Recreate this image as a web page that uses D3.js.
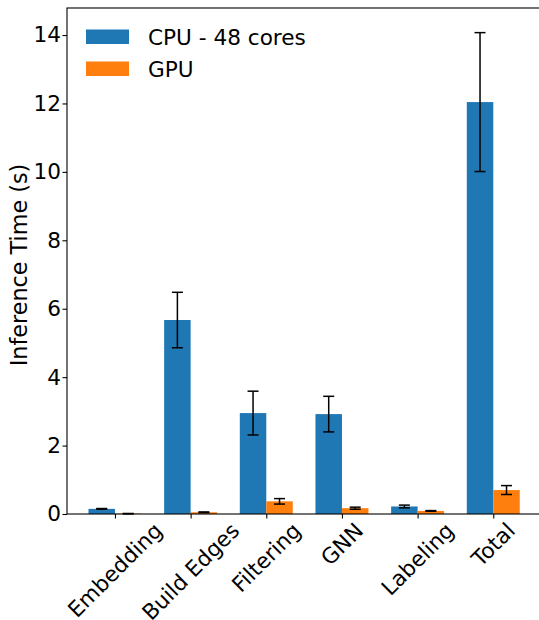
<!DOCTYPE html>
<html>
<head>
<meta charset="utf-8">
<script src="https://cdn.jsdelivr.net/npm/d3@7"></script>
<style>
  body { margin: 0; background: #fff; }
  text { font-family: "DejaVu Sans", sans-serif; }
</style>
</head>
<body>
<div id="chart"></div>
<script>
// data
const stages   = ['Embedding', 'Build Edges', 'Filtering', 'GNN', 'Labeling', 'Total'];
const cpu_mean = [0.15, 5.67, 2.95, 2.92, 0.22, 12.04];
const cpu_err  = [0.01, 0.81, 0.64, 0.52, 0.04, 2.03];
const gpu_mean = [0.01, 0.05, 0.37, 0.17, 0.09, 0.70];
const gpu_err  = [0.005, 0.01, 0.08, 0.03, 0.01, 0.13];
const y_ticks  = [0, 2, 4, 6, 8, 10, 12, 14];
const series_names = ['CPU - 48 cores', 'GPU'];

const width = 539, height = 620;
const fs = 21.6;
const barW = 0.35;

const svg = d3.select('#chart').append('svg')
  .attr('width', width)
  .attr('height', height)
  .attr('viewBox', [0, 0, width, height]);

// scales
const x = d3.scaleLinear().domain([-0.634, 5.634]).range([67, 67 + 6.268 * 75.66]);
const y = d3.scaleLinear().domain([0, 14.79]).range([514, 8]);

const series = [
  { name: series_names[0], color: '#1f77b4', mean: cpu_mean, err: cpu_err, off: -barW / 2 },
  { name: series_names[1], color: '#ff7f0e', mean: gpu_mean, err: gpu_err, off:  barW / 2 }
];

// bars
const bars = svg.append('g').attr('id', 'bars');
series.forEach(s => {
  bars.append('g')
    .attr('fill', s.color)
    .selectAll('rect')
    .data(s.mean)
    .join('rect')
    .attr('x', (d, i) => x(i + s.off - barW / 2))
    .attr('width', x(barW) - x(0))
    .attr('y', d => y(d))
    .attr('height', d => y(0) - y(d));
});

// error bars
const errs = svg.append('g').attr('id', 'errorbars').attr('stroke', '#000').attr('stroke-width', 1.5);
series.forEach(s => {
  const g = errs.append('g');
  s.mean.forEach((m, i) => {
    const cx = x(i + s.off);
    const y1 = y(m + s.err[i]), y2 = y(m - s.err[i]);
    g.append('line').attr('x1', cx).attr('x2', cx).attr('y1', y1).attr('y2', y2);
    g.append('line').attr('x1', cx - 5.5).attr('x2', cx + 5.5).attr('y1', y1).attr('y2', y1);
    g.append('line').attr('x1', cx - 5.5).attr('x2', cx + 5.5).attr('y1', y2).attr('y2', y2);
  });
});

// axes
const yAxis = svg.append('g')
  .attr('transform', `translate(${x(-0.634)},0)`)
  .call(d3.axisLeft(y).tickValues(y_ticks).tickSize(4.5).tickPadding(1.5).tickFormat(d3.format('d')));
yAxis.select('.domain').remove();
yAxis.selectAll('text').attr('font-size', fs).attr('fill', '#000').attr('font-family', 'DejaVu Sans');
yAxis.selectAll('line').attr('stroke', '#000').attr('stroke-width', 1.1);

const xAxis = svg.append('g')
  .attr('transform', `translate(0,${y(0)})`)
  .call(d3.axisBottom(x).tickValues(d3.range(stages.length)).tickSize(4.5).tickFormat(''));
xAxis.select('.domain').remove();
xAxis.selectAll('line').attr('stroke', '#000').attr('stroke-width', 1.1);

// rotated category labels, bbox centred on tick
const xl = svg.append('g').attr('id', 'x-labels');
stages.forEach((s, i) => {
  const t = xl.append('text')
    .attr('font-size', fs)
    .attr('text-anchor', 'middle')
    .attr('dominant-baseline', 'central')
    .text(s);
  const L = t.node().getComputedTextLength();
  const half = (L + fs * 0.95) * Math.SQRT1_2 / 2;
  const cx = x(i), cy = y(0) + 4.5 + 1 + half;
  t.attr('transform', `translate(${cx},${cy}) rotate(-45)`);
});

// frame (spines)
svg.append('rect')
  .attr('x', x(-0.634)).attr('y', y(14.79))
  .attr('width', x(5.634) - x(-0.634)).attr('height', y(0) - y(14.79))
  .attr('fill', 'none').attr('stroke', '#000').attr('stroke-width', 1.1);

// y label
svg.append('text')
  .attr('transform', `translate(27,265) rotate(-90)`)
  .attr('text-anchor', 'middle')
  .attr('font-size', 22.3)
  .text('Inference Time (s)');

// legend
const legend = svg.append('g').attr('id', 'legend');
series.forEach((s, i) => {
  const ly = 29.5 + i * 32;
  legend.append('rect').attr('x', 86).attr('y', ly).attr('width', 43).attr('height', 14.5).attr('fill', s.color);
  legend.append('text').attr('x', 148).attr('y', ly + 15.5).attr('font-size', fs).text(s.name);
});
</script>
</body>
</html>
